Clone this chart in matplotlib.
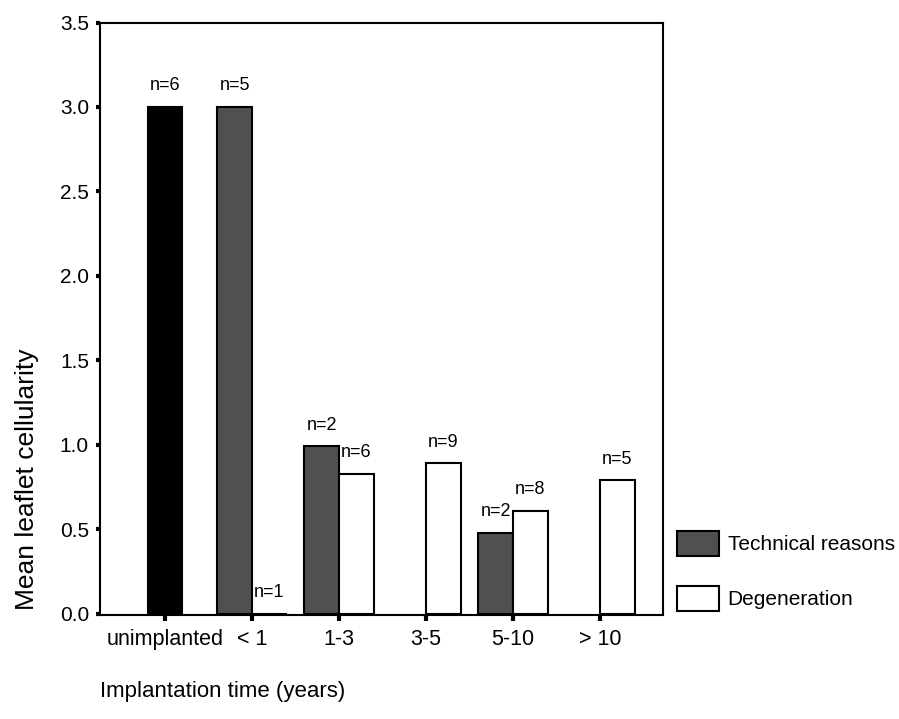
import matplotlib
matplotlib.use("Agg")
import matplotlib.pyplot as plt
from matplotlib.patches import Patch
import numpy as np

plt.rcParams['font.family'] = ['Liberation Sans', 'DejaVu Sans']

categories = ["unimplanted", "< 1", "1-3", "3-5", "5-10", "> 10"]
unimplanted_value = [3.0, None, None, None, None, None]
technical = [None, 3.0, 0.99, None, 0.48, None]
degeneration = [None, 0.0, 0.83, 0.89, 0.61, 0.79]
n_unimplanted = ["n=6", None, None, None, None, None]
n_technical = [None, "n=5", "n=2", None, "n=2", None]
n_degeneration = [None, "n=1", "n=6", "n=9", "n=8", "n=5"]

W, H = 899, 719
fig = plt.figure(figsize=(W / 100, H / 100), dpi=100)
ax = fig.add_axes([100 / W, 1 - 615.4 / H, (662.7 - 100) / W, (615.4 - 22.5) / H])

x = np.arange(len(categories))
bw = 0.4
tech_col = '#505050'

def draw(series, labels, offset, face):
    for xi, v, lab in zip(x, series, labels):
        if v is None:
            continue
        ax.bar(xi + offset, v, width=bw, color=face, edgecolor='black', linewidth=1.5, zorder=2)
        if lab:
            ax.annotate(lab, (xi + offset, v), xytext=(0, 21), textcoords='offset pixels',
                        ha='center', va='center', fontsize=13)

draw(unimplanted_value, n_unimplanted, 0.0, 'black')
draw(technical, n_technical, -bw / 2, tech_col)
draw(degeneration, n_degeneration, bw / 2, 'white')

ax.set_xlim(-0.747, 5.72)
ax.set_ylim(-0.01, 3.5)
ax.set_xticks(x)
ax.set_xticklabels(categories)
ax.set_yticks(np.arange(0, 3.51, 0.5))
ax.set_yticklabels([f"{v:.1f}" for v in np.arange(0, 3.51, 0.5)])
ax.tick_params(axis='x', direction='out', length=4, width=3, labelsize=15.5, pad=6)
ax.tick_params(axis='y', direction='out', length=3, width=3, labelsize=15, pad=5)
for s in ax.spines.values():
    s.set_linewidth(1.5)

fig.text(27 / W, 1 - 479 / H, "Mean leaflet cellularity", rotation=90,
         ha='center', va='center', fontsize=19)
fig.text(100 / W, 1 - 692 / H, "Implantation time (years)", ha='left', va='center', fontsize=16)

handles = [Patch(facecolor=tech_col, edgecolor='black', linewidth=1.5, label="Technical reasons"),
           Patch(facecolor='white', edgecolor='black', linewidth=1.5, label="Degeneration")]
fig.legend(handles=handles, loc='upper left', bbox_to_anchor=(677 / W, 1 - 531 / H),
           frameon=False, fontsize=15, handlelength=2.0, handleheight=1.45,
           handletextpad=0.43, labelspacing=1.45, borderpad=0, borderaxespad=0)

fig.savefig("out.png", dpi=100)
